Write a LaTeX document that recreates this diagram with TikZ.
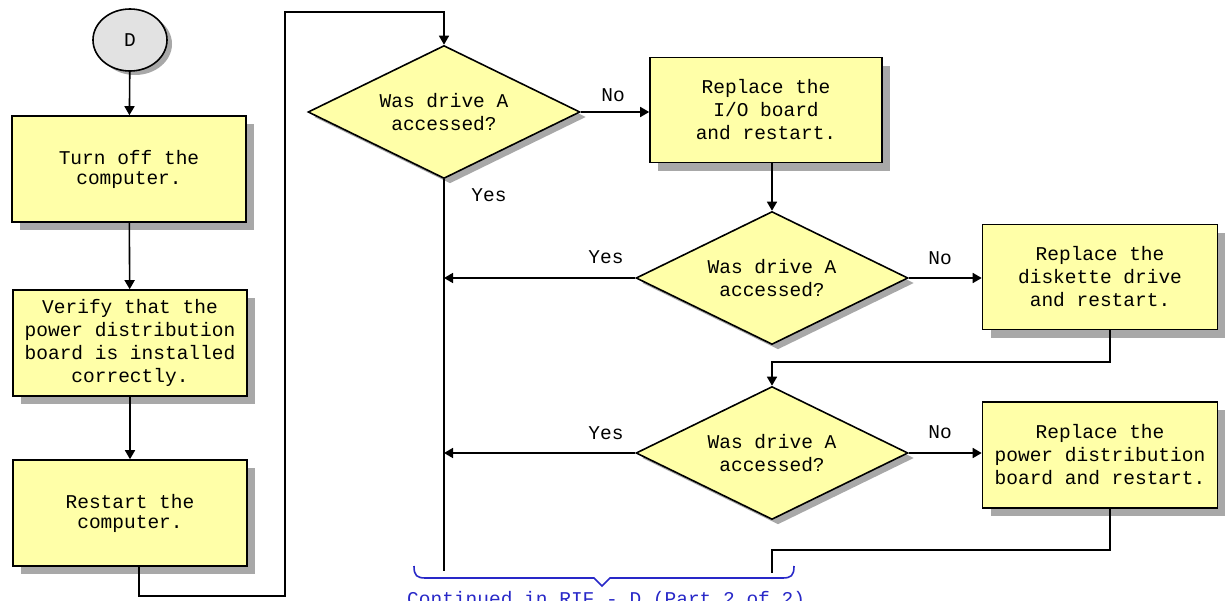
\documentclass[tikz,border=0pt]{standalone}
\usepackage{fontspec}
\setmainfont{Liberation Mono}
\usetikzlibrary{shapes.geometric,shadows,arrows.meta}
\definecolor{boxfill}{HTML}{FFFFA8}
\definecolor{shadowgray}{HTML}{A8A8A8}
\definecolor{startfill}{HTML}{E2E2E2}
\definecolor{bracecol}{HTML}{2828C8}
\begin{document}
\begin{tikzpicture}[x=1pt,y=-1pt,
  font=\fontsize{19.5}{23}\selectfont,
  procbox/.style={draw,line width=1.6pt,fill=boxfill,minimum width=234pt,minimum height=106pt,
    align=center,inner sep=0pt,
    drop shadow={shadow xshift=8pt,shadow yshift=-8pt,fill=shadowgray,opacity=1}},
  decision/.style={draw,diamond,shape aspect=2,line width=1.6pt,fill=boxfill,minimum width=272pt,minimum height=133pt,
    inner sep=0pt,align=center,
    drop shadow={shadow xshift=6pt,shadow yshift=-5pt,fill=shadowgray,opacity=1}},
  conn/.style={line width=1.6pt},
  arr/.style={conn,-{Triangle[width=10pt,length=9pt]}},
  lbl/.style={inner sep=0pt}
]
\useasboundingbox (0,0) rectangle (1225,600);
\fill[white] (0,0) rectangle (1225,600);

% left column
\node[ellipse,draw,line width=1.6pt,fill=startfill,minimum width=74pt,minimum height=62pt,inner sep=0pt,
  drop shadow={shadow xshift=5pt,shadow yshift=-4pt,fill=shadowgray,opacity=1}] (start) at (130,40) {D};
\node[procbox,font=\fontsize{19.5}{20}\selectfont] (b1) at (129,169) {Turn off the\\computer.};
\node[procbox] (b2) at (130,343) {Verify that the\\power distribution\\board is installed\\correctly.};
\node[procbox,font=\fontsize{19.5}{20}\selectfont] (b3) at (130,513) {Restart the\\computer.};

% decisions and actions
\node[decision] (d1) at (444,112) {Was drive A\\accessed?};
\node[procbox,minimum width=232pt,minimum height=105pt] (b4) at (766,110) {Replace the\\I/O board\\and restart.};
\node[decision] (d2) at (772,278) {Was drive A\\accessed?};
\node[procbox,minimum width=235pt,minimum height=105pt] (b5) at (1100,277) {Replace the\\diskette drive\\and restart.};
\node[decision] (d3) at (772,453) {Was drive A\\accessed?};
\node[procbox,minimum width=235pt,minimum height=106pt] (b6) at (1100,455) {Replace the\\power distribution\\board and restart.};

% coordinates
\coordinate (c1) at (139,596);
\coordinate (c2) at (285,596);
\coordinate (c3) at (285,12);
\coordinate (c4) at (444,12);
\coordinate (j2) at (444,278);
\coordinate (j3) at (444,453);
\coordinate (dend) at (444,571);
\coordinate (c5) at (1110,362);
\coordinate (c6) at (772,362);
\coordinate (c7) at (1110,550);
\coordinate (c8) at (772,550);
\coordinate (c9) at (772,573);

% connectors
\draw[arr] (start) -- (b1);
\draw[arr] (b1) -- (b2);
\draw[arr] (b2) -- (b3);
\draw[arr] (b3.south -| c1) -- (c1) -- (c2) -- (c3) -- (c4) -- (d1.north);
\draw[arr] (d1.east) -- (b4.west |- d1.east);
\draw[arr] (d2.north |- b4.south) -- (d2.north);
\draw[conn] (d1.south) -- (dend);
\draw[arr] (d2.west) -- (j2);
\draw[arr] (d2.east) -- (b5.west |- d2.east);
\draw[arr] (b5.south -| c5) -- (c5) -- (c6) -- (d3.north);
\draw[arr] (d3.west) -- (j3);
\draw[arr] (d3.east) -- (b6.west |- d3.east);
\draw[conn] (b6.south -| c7) -- (c7) -- (c8) -- (c9);

% labels
\node[lbl] (no1) at (613,95) {No};
\node[lbl] (yes1) at (489,195) {Yes};
\node[lbl] (yes2) at (606,257) {Yes};
\node[lbl] (no2) at (940,258) {No};
\node[lbl] (yes3) at (606,433) {Yes};
\node[lbl] (no3) at (940,432) {No};

% brace and continuation text
\draw[bracecol,line width=1.6pt] (414,566) .. controls (414,576) and (417,578) .. (426,578)
  -- (594,578) -- (602,586) -- (610,578) -- (782,578)
  .. controls (791,578) and (794,576) .. (794,566);
\node[anchor=north west,text=bracecol,inner sep=0pt] (cont) at (407,591) {Continued in RIF - D (Part 2 of 2)};
\end{tikzpicture}
\end{document}
